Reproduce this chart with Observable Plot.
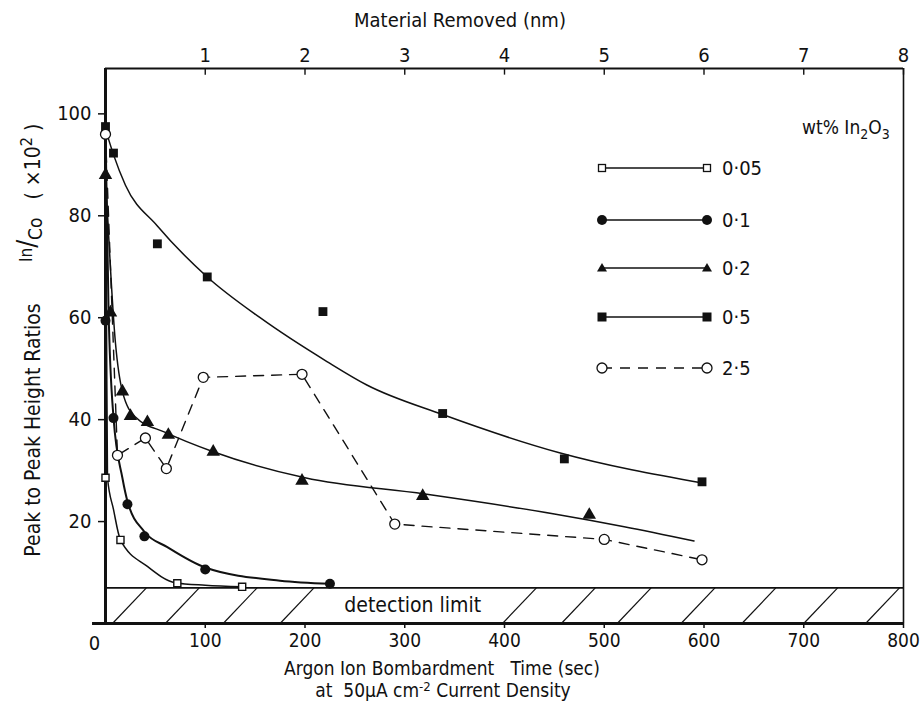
<!DOCTYPE html>
<html><head><meta charset="utf-8">
<script src="https://cdn.jsdelivr.net/npm/d3@7"></script>
<script src="https://cdn.jsdelivr.net/npm/@observablehq/plot@0.6"></script>
<style>
body{margin:0;background:#fff;}
#chart{width:920px;height:711px;}
svg{font-family:"DejaVu Sans Condensed","Liberation Sans Narrow",sans-serif;}
</style></head><body><div id="chart"></div>
<script>
// ---- data (seconds of Ar+ bombardment, In/Co peak ratio x100) ----
const timeTicks = [100, 200, 300, 400, 500, 600, 700, 800];
const yTicks = [20, 40, 60, 80, 100];
const yTop = 108.9;
const detectionLimit = 7;
const hatchStarts = [7, 60, 118, 175, 398, 457, 513, 577, 638, 700, 762];

// 0.05 wt% (open squares)
const t005 = [0, 15, 72, 137];
const v005 = [28.6, 16.4, 7.9, 7.2];
const fitT005 = [0, 1, 2, 8, 15, 42, 70, 100, 137];
const fitV005 = [97, 60, 28.6, 22.4, 16.4, 11.2, 8, 7.5, 7.2];
// 0.1 wt% (filled circles)
const t01 = [0, 8, 22, 39, 100, 225];
const v01 = [59.4, 40.3, 23.4, 17.1, 10.6, 7.8];
const fitT01 = [0, 3, 8, 17, 22, 39, 62, 100, 175, 225];
const fitV01 = [97, 62, 40.5, 28.5, 24, 18, 15, 11, 8.4, 7.8];
// 0.2 wt% (filled triangles)
const t02 = [0, 5, 17, 25, 42, 63, 108, 197, 318, 485];
const v02 = [88, 61, 45.5, 40.7, 39.5, 37, 33.7, 28, 25, 21.3];
const fitT02 = [0, 10, 17, 30, 60, 108, 200, 320, 450, 520, 590];
const fitV02 = [88, 55, 45.5, 40.5, 37.5, 33.7, 28.6, 25.4, 21.5, 19, 16.2];
// 0.5 wt% (filled squares)
const t05 = [0, 8, 52, 102, 218, 338, 460, 598];
const v05 = [97.5, 92.3, 74.5, 68, 61.2, 41.2, 32.3, 27.8];
const fitT05 = [0, 8, 20, 52, 102, 155, 222, 262, 338, 455, 600];
const fitV05 = [97, 92, 86, 78, 68, 60, 51.4, 46.8, 41, 33.5, 27.5];
// 2.5 wt% (open circles, dashed)
const t25 = [0, 12, 40, 61, 98, 197, 290, 500, 598];
const v25 = [96, 33, 36.4, 30.4, 48.3, 48.9, 19.5, 16.5, 12.5];

const legendLabels = ["0·05", "0·1", "0·2", "0·5", "2·5"];

const zip = (ts, vs) => ts.map((t, i) => ({t, v: vs[i]}));
const FONT = `"DejaVu Sans Condensed","Liberation Sans Narrow",sans-serif`;

const svg = Plot.plot({
  width: 920, height: 711,
  marginLeft: 105, marginRight: 17, marginTop: 68, marginBottom: 88,
  style: {fontFamily: FONT, fontSize: "20px", color: "#111", background: "#fff", overflow: "visible"},
  x: {domain: [0, 800]},
  y: {domain: [0, yTop]},
  marks: [
    // detection limit band
    Plot.link(hatchStarts, {x1: d => d, y1: 0, x2: d => d + 34, y2: detectionLimit, stroke: "#111", strokeWidth: 1.2}),
    Plot.ruleY([detectionLimit], {stroke: "#111", strokeWidth: 1.6}),
    Plot.text(["detection limit"], {x: 308, y: detectionLimit / 2, fontSize: 21, fill: "#111"}),
    // frame
    Plot.ruleY([yTop], {stroke: "#111", strokeWidth: 2}),
    Plot.ruleX([800], {stroke: "#111", strokeWidth: 1.6}),
    Plot.ruleX(timeTicks, {y1: yTop, y2: yTop - 1.3, stroke: "#111", strokeWidth: 1.4}),
    // axes
    Plot.axisY({ticks: yTicks, tickSize: 7, tickPadding: 7, label: null, fontSize: 20, strokeWidth: 1.5}),
    Plot.axisX({ticks: timeTicks, tickSize: 5, tickPadding: 5, label: null, fontSize: 19, strokeWidth: 1.5}),
    Plot.axisX({anchor: "top", ticks: timeTicks, tickFormat: d => d / 100, tickSize: 0, tickPadding: 7, label: null, fontSize: 20}),
    Plot.text(["0"], {x: 0, y: 0, dx: -11, dy: 20, fontSize: 20, fill: "#111"}),
    Plot.ruleX([0], {stroke: "#111", strokeWidth: 3}),
    Plot.ruleY([0], {x1: -13, x2: 800, stroke: "#111", strokeWidth: 3}),
    // fitted curves
    Plot.line(zip(fitT005, fitV005), {x: "t", y: "v", curve: "monotone-x", stroke: "#111", strokeWidth: 1.5}),
    Plot.line(zip(fitT01, fitV01), {x: "t", y: "v", curve: "monotone-x", stroke: "#111", strokeWidth: 2}),
    Plot.line(zip(fitT02, fitV02), {x: "t", y: "v", curve: "monotone-x", stroke: "#111", strokeWidth: 1.5}),
    Plot.line(zip(fitT05, fitV05), {x: "t", y: "v", curve: "monotone-x", stroke: "#111", strokeWidth: 1.5}),
    Plot.line(zip(t25, v25), {x: "t", y: "v", stroke: "#111", strokeWidth: 1.4, strokeDasharray: "10,8"}),
    // points
    Plot.dot(zip(t005, v005), {x: "t", y: "v", symbol: "square", r: 4, fill: "#fff", stroke: "#111", strokeWidth: 1.4}),
    Plot.dot(zip(t01, v01), {x: "t", y: "v", symbol: "circle", r: 5, fill: "#111", stroke: "none"}),
    Plot.dot(zip(t02, v02), {x: "t", y: "v", symbol: "triangle", r: 5, fill: "#111", stroke: "none"}),
    Plot.dot(zip(t05, v05), {x: "t", y: "v", symbol: "square", r: 5, fill: "#111", stroke: "none"}),
    Plot.dot(zip(t25, v25), {x: "t", y: "v", symbol: "circle", r: 5, fill: "#fff", stroke: "#111", strokeWidth: 1.3})
  ]
});

document.getElementById("chart").appendChild(svg);

// ---- titles and legend (layout) ----
const s = d3.select(svg);
const txt = (x, y, str, opts = {}) => s.append("text").attr("x", x).attr("y", y)
  .attr("text-anchor", opts.anchor || "middle").attr("font-size", opts.size || 20)
  .attr("fill", "#111").attr("font-family", FONT).text(str);

txt(460, 27, "Material Removed (nm)");
txt(442, 675, "Argon Ion Bombardment   Time (sec)", {size: 19});
const l2 = s.append("text").attr("x", 443).attr("y", 697).attr("text-anchor", "middle")
  .attr("font-size", 19).attr("fill", "#111").attr("font-family", FONT);
l2.append("tspan").text("at  50μA cm");
l2.append("tspan").attr("dy", -6).attr("font-size", 13).text("-2");
l2.append("tspan").attr("dy", 6).text(" Current Density");

// y title (rotated), two parts
s.append("text").attr("transform", "translate(40,430) rotate(-90)")
  .attr("text-anchor", "middle").attr("font-size", 21).attr("fill", "#111")
  .attr("font-family", FONT).text("Peak to Peak Height Ratios");
const yt = s.append("text").attr("transform", "translate(40,262) rotate(-90)")
  .attr("text-anchor", "start").attr("font-size", 21).attr("fill", "#111").attr("font-family", FONT);
yt.append("tspan").attr("dy", -8).attr("font-size", 17).text("In");
yt.append("tspan").attr("dy", 4).attr("font-size", 26).text("/");
yt.append("tspan").attr("dy", 6).attr("font-size", 19).text("Co");
yt.append("tspan").attr("dy", -2).text("   ( ×10");
yt.append("tspan").attr("dy", -8).attr("font-size", 16).text("2");
yt.append("tspan").attr("dy", 8).text(" )");

// legend
const lg = s.append("g");
const hdr = lg.append("text").attr("x", 802).attr("y", 134).attr("font-size", 19)
  .attr("text-anchor", "start").attr("fill", "#111").attr("font-family", FONT);
hdr.append("tspan").text("wt% In");
hdr.append("tspan").attr("dy", 5).attr("font-size", 14).text("2");
hdr.append("tspan").attr("dy", -5).text("O");
hdr.append("tspan").attr("dy", 5).attr("font-size", 14).text("3");
const rowsY = [168, 220, 268, 317, 368];
const x1 = 602, x2 = 707;
rowsY.forEach((y, i) => {
  lg.append("line").attr("x1", x1).attr("x2", x2).attr("y1", y).attr("y2", y)
    .attr("stroke", "#111").attr("stroke-width", 1.4)
    .attr("stroke-dasharray", i === 4 ? "10,8" : null);
  [x1, x2].forEach(x => {
    if (i === 0) lg.append("rect").attr("x", x - 3.5).attr("y", y - 3.5).attr("width", 7).attr("height", 7).attr("fill", "#fff").attr("stroke", "#111").attr("stroke-width", 1.3);
    if (i === 1) lg.append("circle").attr("cx", x).attr("cy", y).attr("r", 5).attr("fill", "#111");
    if (i === 2) lg.append("path").attr("d", `M${x},${y - 5}L${x + 5},${y + 3.5}L${x - 5},${y + 3.5}Z`).attr("fill", "#111");
    if (i === 3) lg.append("rect").attr("x", x - 4.5).attr("y", y - 4.5).attr("width", 9).attr("height", 9).attr("fill", "#111");
    if (i === 4) lg.append("circle").attr("cx", x).attr("cy", y).attr("r", 5).attr("fill", "#fff").attr("stroke", "#111").attr("stroke-width", 1.3);
  });
  lg.append("text").attr("x", 722).attr("y", y + 7).attr("font-size", 20).attr("text-anchor", "start")
    .attr("fill", "#111").attr("font-family", FONT).text(legendLabels[i]);
});
</script>
</body></html>
